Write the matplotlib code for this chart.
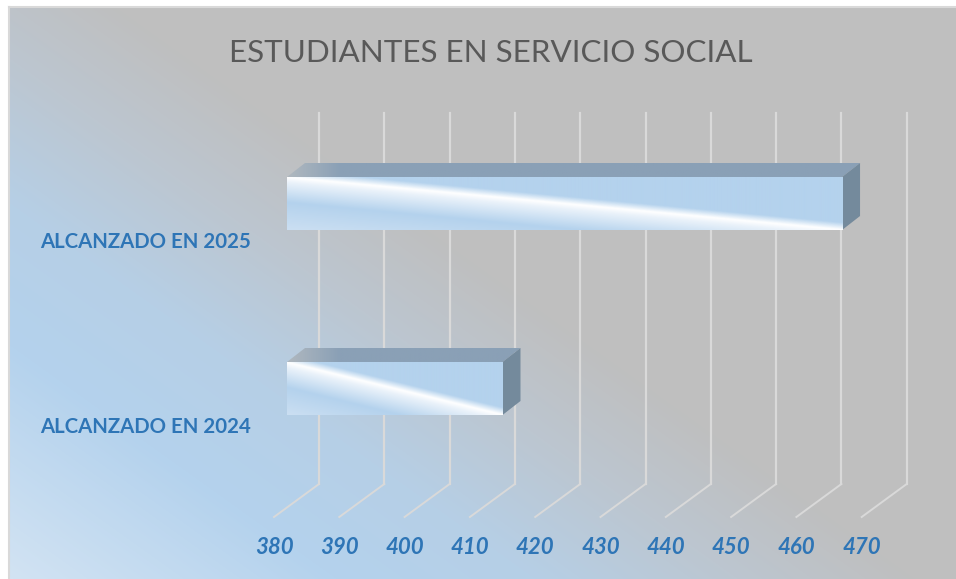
import numpy as np
import matplotlib
matplotlib.use("Agg")
import matplotlib.pyplot as plt
from matplotlib.colors import LinearSegmentedColormap
from matplotlib.patches import Polygon

# ---------------- DATA ----------------
categorias = ["ALCANZADO EN 2025", "ALCANZADO EN 2024"]
valores = [465, 413]
ticks = [380, 390, 400, 410, 420, 430, 440, 450, 460, 470]
titulo = "ESTUDIANTES EN SERVICIO SOCIAL"

# ---------------- SCALE (10 units = 65.3 px, 380 at x=287) ----------------
W, H = 956, 579
PX = 6.53
X0 = 380 - 287 / PX
DX, DY = 18 / PX, 14          # bar depth
BX = 32 / PX                  # back wall offset from the bar start
GX, GY = 45 / PX, 33          # floor depth
bar_top = [177, 362]
bar_h = 53
azul = "#2E75B6"

plt.rcParams["font.family"] = ["Lato", "DejaVu Sans"]
fig = plt.figure(figsize=(W / 100, H / 100), dpi=100, facecolor="white")
ax = fig.add_axes([0, 0, 1, 1])
ax.set_xlim(X0, X0 + W / PX)
ax.set_ylim(H, 0)
ax.axis("off")

def vx(px):
    return X0 + px / PX

# ---------------- BACKGROUND ----------------
fondo = LinearSegmentedColormap.from_list("fondo", [
    (0.0, "#D2E3F3"), (0.36, "#B4D2ED"), (0.58, "#B6CFE6"), (0.80, "#BCC6D0"), (1.0, "#BFBFBF")])
xx, yy = np.meshgrid(np.arange(10, W), np.arange(8, H))
t = np.clip((429 * (xx - 10) + 600 * (H - yy)) / 390000, 0, 1)
ax.imshow(t, cmap=fondo, vmin=0, vmax=1, aspect="auto", interpolation="bilinear",
          extent=(vx(10), vx(W), H, 8), zorder=0)
ax.plot([vx(9), vx(9)], [H, 7], color="#D9D9D9", lw=1.5, zorder=1)
ax.plot([vx(9), vx(W)], [7, 7], color="#D9D9D9", lw=1.5, zorder=1)

# ---------------- GRID ----------------
for v in ticks:
    x_back = v + BX
    ax.plot([x_back, x_back], [113, 484], color="#D9D9D9", lw=1.6, zorder=2)
    ax.plot([x_back, x_back - GX], [484, 517], color="#D9D9D9", lw=1.4, zorder=2)
    ax.text(x_back - GX, 548, str(v), color=azul, fontsize=16, fontweight="bold",
            fontstyle="italic", ha="center", va="center", zorder=5)

# ---------------- BARS ----------------
barra = LinearSegmentedColormap.from_list("barra", [
    (0.0, "#B4D2ED"), (0.43, "#B4D2ED"), (0.5, "#FFFFFF"), (0.55, "#EAF2FA"),
    (0.74, "#B4D2ED"), (1.0, "#CBDFF2")])
techo = LinearSegmentedColormap.from_list("techo", ["#B0B8BF", "#8AA0B6"])

for nombre, valor, top in zip(categorias, valores, bar_top):
    bottom = top + bar_h
    # top face
    ptop = Polygon([(380, top), (380 + DX, top - DY), (valor + DX, top - DY), (valor, top)],
                   closed=True, transform=ax.transData, fc="none", ec="none", zorder=3)
    ax.add_patch(ptop)
    g = np.clip(np.linspace(0, 1, 300) * (valor + DX - 380) / 8, 0, 1)[None, :]
    im = ax.imshow(g, cmap=techo, vmin=0, vmax=1, aspect="auto",
                   extent=(380, valor + DX, top, top - DY), zorder=3)
    im.set_clip_path(ptop)
    # side face
    ax.add_patch(Polygon([(valor, top), (valor + DX, top - DY), (valor + DX, bottom - DY), (valor, bottom)],
                         closed=True, fc="#748A9C", ec="none", zorder=3))
    # front face
    u, w = np.meshgrid(np.linspace(0, 1, 400), np.linspace(0, 1, bar_h * 2))
    ax.imshow((w - u) / 2 + 0.5, cmap=barra, vmin=0, vmax=1, aspect="auto",
              extent=(380, valor, bottom, top), interpolation="bilinear", zorder=4)
    ax.text(vx(40), top + 65, nombre, color=azul, fontsize=14.7, fontweight="bold",
            ha="left", va="center", zorder=5)

ax.set_xlim(X0, X0 + W / PX)
ax.set_ylim(H, 0)
ax.text(vx(490.5), 53, titulo, color="#595959", fontsize=22.6, ha="center", va="center", zorder=5)

fig.savefig("out.png", dpi=100)
